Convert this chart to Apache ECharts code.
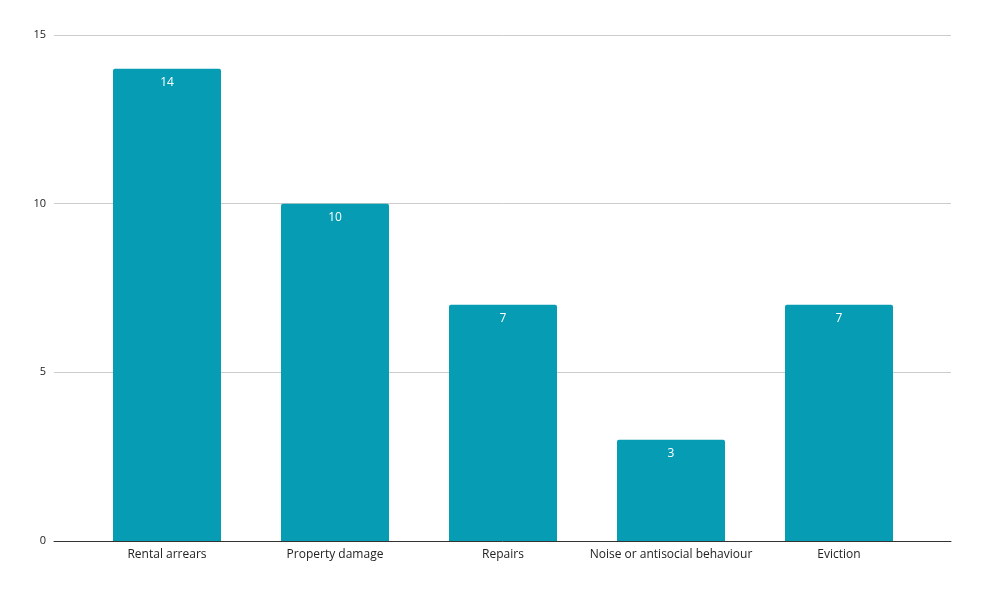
<!DOCTYPE html>
<html><head><meta charset="utf-8">
<script src="https://cdn.jsdelivr.net/npm/echarts@6/dist/echarts.min.js"></script>
<style>html,body{margin:0;padding:0;background:#fff}#c{width:981px;height:589px}</style>
</head><body><div id="c"></div>
<script>
const categories = ["Rental arrears", "Property damage", "Repairs", "Noise or antisocial behaviour", "Eviction"];
const values = [14, 10, 7, 3, 7];
const yTicks = [0, 5, 10, 15];

const font = "'Open Sans', 'Noto Sans', sans-serif";
const chart = echarts.init(document.getElementById('c'), null, {renderer: 'canvas'});
chart.setOption({
  animation: false,
  grid: [
    {left: 54, right: 30, top: 35, bottom: 48},
    {left: 83, right: 58, top: 35, bottom: 48}
  ],
  xAxis: [
    {gridIndex: 0, type: 'value', min: 0, max: 1, axisLine: {show: true, lineStyle: {color: '#333', width: 1}},
     axisTick: {show: false}, axisLabel: {show: false}, splitLine: {show: false}},
    {gridIndex: 1, type: 'category', data: categories, axisLine: {show: false}, axisTick: {show: false},
     axisLabel: {interval: 0, color: '#222', fontSize: 12, fontFamily: font, margin: 8}}
  ],
  yAxis: [
    {gridIndex: 0, type: 'value', min: yTicks[0], max: yTicks[yTicks.length - 1], interval: 5,
     axisLine: {show: false}, axisTick: {show: false},
     axisLabel: {color: '#222', fontSize: 11, fontFamily: font, margin: 8},
     splitLine: {lineStyle: {color: '#cccccc', width: 1}}},
    {gridIndex: 1, type: 'value', min: yTicks[0], max: yTicks[yTicks.length - 1], interval: 5, show: false}
  ],
  series: [{
    type: 'bar', xAxisIndex: 1, yAxisIndex: 1, data: values, barWidth: 108,
    itemStyle: {color: '#069db4', borderRadius: [2, 2, 0, 0]},
    label: {show: true, position: 'insideTop', distance: 8, color: '#fff', fontSize: 12, fontFamily: font}
  }]
});
</script></body></html>
